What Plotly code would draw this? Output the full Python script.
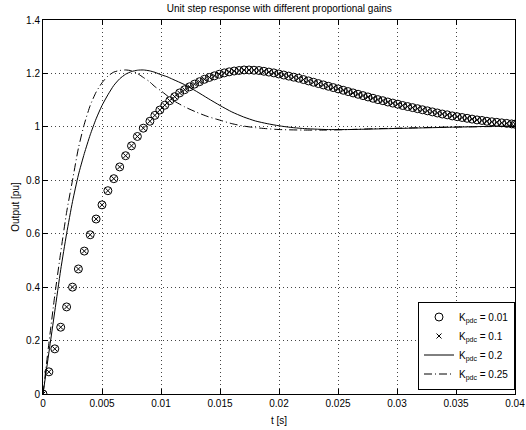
import plotly.graph_objects as go

# K_pdc = 0.01 and 0.1 (markers, identical responses)
t_mk = [0, 0.0005, 0.001, 0.0015, 0.002, 0.0025, 0.003, 0.0035, 0.004, 0.0045,
        0.005, 0.0055, 0.006, 0.0065, 0.007, 0.0075, 0.008, 0.0085, 0.00906,
        0.00948, 0.0099, 0.01032, 0.01074, 0.01116, 0.01158, 0.012, 0.01242, 0.01284,
        0.01326, 0.01368, 0.0141, 0.01452, 0.01494, 0.01536, 0.01578, 0.0162, 0.01662,
        0.01704, 0.01746, 0.01788, 0.0183, 0.01872, 0.01914, 0.01956, 0.01998, 0.0204,
        0.02082, 0.02124, 0.02166, 0.02208, 0.0225, 0.02292, 0.02334, 0.02376, 0.02418,
        0.0246, 0.02502, 0.02544, 0.02586, 0.02628, 0.0267, 0.02712, 0.02754, 0.02796,
        0.02838, 0.0288, 0.02922, 0.02964, 0.03006, 0.03048, 0.0309, 0.03132, 0.03174,
        0.03216, 0.03258, 0.033, 0.03342, 0.03384, 0.03426, 0.03468, 0.0351, 0.03552,
        0.03594, 0.03636, 0.03678, 0.0372, 0.03762, 0.03804, 0.03846, 0.03888, 0.0393,
        0.03972, 0.04]
y_mk = [0, 0.083, 0.169, 0.25, 0.326, 0.40, 0.468, 0.535, 0.596, 0.655,
        0.708, 0.761, 0.806, 0.850, 0.892, 0.929, 0.964, 0.995, 1.021,
        1.043, 1.063, 1.081, 1.098, 1.113, 1.127, 1.139, 1.150, 1.160,
        1.169, 1.178, 1.185, 1.191, 1.197, 1.202, 1.206, 1.209, 1.211,
        1.213, 1.213, 1.212, 1.211, 1.208, 1.205, 1.202, 1.198, 1.194,
        1.190, 1.186, 1.182, 1.177, 1.172, 1.167, 1.162, 1.157, 1.152,
        1.147, 1.142, 1.137, 1.132, 1.127, 1.122, 1.117, 1.112, 1.107,
        1.102, 1.098, 1.093, 1.089, 1.085, 1.080, 1.076, 1.072, 1.068,
        1.064, 1.060, 1.056, 1.052, 1.048, 1.045, 1.041, 1.038, 1.035,
        1.032, 1.029, 1.026, 1.024, 1.021, 1.019, 1.017, 1.015, 1.013,
        1.011, 1.010]

# K_pdc = 0.2 (solid)
t_k2 = [0, 0.0005, 0.001, 0.0015, 0.002, 0.0025, 0.003, 0.0035, 0.004, 0.0045,
        0.005, 0.0055, 0.006, 0.0065, 0.007, 0.0075, 0.008, 0.0085, 0.009, 0.0095,
        0.01, 0.0105, 0.011, 0.012, 0.013, 0.014, 0.015, 0.016, 0.017, 0.018,
        0.019, 0.02, 0.021, 0.022, 0.024, 0.026, 0.028, 0.03, 0.032, 0.034,
        0.036, 0.038, 0.04]
y_k2 = [0, 0.155, 0.31, 0.465, 0.60, 0.72, 0.82, 0.90, 0.97, 1.03,
        1.08, 1.12, 1.155, 1.18, 1.197, 1.207, 1.212, 1.213, 1.21, 1.204,
        1.195, 1.188, 1.178, 1.158, 1.133, 1.106, 1.08, 1.056, 1.037, 1.022,
        1.012, 1.004, 0.998, 0.994, 0.99, 0.99, 0.992, 0.994, 0.996, 0.998,
        1.0, 1.002, 1.003]

# K_pdc = 0.25 (dash-dot)
t_k25 = [0, 0.0005, 0.001, 0.0015, 0.002, 0.0025, 0.003, 0.0035, 0.004, 0.0045,
         0.005, 0.0055, 0.006, 0.0065, 0.007, 0.0075, 0.008, 0.0085, 0.009, 0.0095,
         0.01, 0.011, 0.012, 0.013, 0.014, 0.015, 0.016, 0.017, 0.018, 0.019,
         0.02, 0.022, 0.024, 0.026, 0.028, 0.03, 0.032, 0.034, 0.036, 0.038, 0.04]
y_k25 = [0, 0.19, 0.37, 0.53, 0.68, 0.80, 0.92, 1.01, 1.08, 1.13,
         1.165, 1.19, 1.205, 1.211, 1.213, 1.21, 1.20, 1.185, 1.17, 1.15,
         1.135, 1.10, 1.075, 1.055, 1.038, 1.025, 1.012, 1.003, 0.997, 0.993,
         0.99, 0.988, 0.988, 0.99, 0.993, 0.995, 0.997, 0.999, 1.0, 1.001, 1.002]

x_ticks = [0, 0.005, 0.01, 0.015, 0.02, 0.025, 0.03, 0.035, 0.04]
y_ticks = [0, 0.2, 0.4, 0.6, 0.8, 1, 1.2, 1.4]

FONT = "Liberation Sans, Arial, Helvetica, sans-serif"

fig = go.Figure()
fig.add_trace(go.Scatter(x=t_mk, y=y_mk, mode="markers", name="K<sub>pdc</sub> = 0.01",
                         marker=dict(symbol="circle-open", size=8, color="black",
                                     line=dict(width=1, color="black"))))
fig.add_trace(go.Scatter(x=t_mk, y=y_mk, mode="markers", name="K<sub>pdc</sub> = 0.1",
                         marker=dict(symbol="x-thin-open", size=5, color="black",
                                     line=dict(width=1, color="black"))))
fig.add_trace(go.Scatter(x=t_k2, y=y_k2, mode="lines", name="K<sub>pdc</sub> = 0.2",
                         line=dict(color="black", width=1, shape="spline", smoothing=0.6)))
fig.add_trace(go.Scatter(x=t_k25, y=y_k25, mode="lines", name="K<sub>pdc</sub> = 0.25",
                         line=dict(color="black", width=1, dash="8px,3px,1px,3px",
                                   shape="spline", smoothing=0.6)))

axis_common = dict(showline=True, linecolor="black", linewidth=1, mirror="allticks",
                   ticks="inside", ticklen=5, tickcolor="black", automargin=False,
                   showgrid=True, gridcolor="#444", gridwidth=1, griddash="1px,3px",
                   zeroline=False, tickfont=dict(size=10, color="black", family=FONT))

fig.update_xaxes(range=[0, 0.04], tickvals=x_ticks,
                 ticktext=[str(v) for v in x_ticks],
                 title=dict(text="t [s]", font=dict(size=10, color="black", family=FONT), standoff=8),
                 **axis_common)
fig.update_yaxes(range=[0, 1.4], tickvals=y_ticks,
                 ticktext=[str(v) for v in y_ticks],
                 title=dict(text="Output [pu]", font=dict(size=10, color="black", family=FONT), standoff=4),
                 **axis_common)

fig.update_layout(
    width=526, height=430,
    margin=dict(l=43, r=11, t=20, b=36),
    paper_bgcolor="white", plot_bgcolor="white",
    font=dict(family=FONT, size=10, color="black"),
    title=dict(text="Unit step response with different proportional gains",
               x=0.531, xanchor="center", y=0.981, yanchor="middle",
               font=dict(size=10, color="black", family=FONT)),
    legend=dict(x=1, xanchor="right", y=0.012, yanchor="bottom",
                bgcolor="white", bordercolor="black", borderwidth=1,
                font=dict(size=10, color="black", family=FONT),
                itemwidth=30, tracegroupgap=0),
    showlegend=True,
)

fig.write_html("out.html")
